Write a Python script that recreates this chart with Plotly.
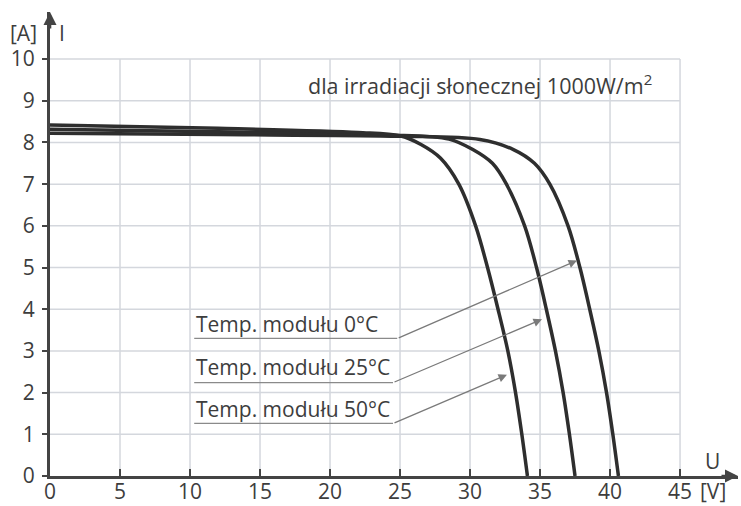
import plotly.graph_objects as go

# Charakterystyki I-U modułu PV dla trzech temperatur (odczyt z wykresu)
u_0c = [0, 12, 25, 30.7, 33.1, 34.6, 35.7, 37.0, 37.85, 38.55, 39.2, 39.75, 40.2, 40.6]
i_0c = [8.22, 8.19, 8.15, 8.07, 7.83, 7.5, 7.0, 6.0, 5.0, 4.0, 3.0, 2.0, 1.0, 0]

u_25c = [0, 12, 24, 28.5, 30.2, 31.6, 32.6, 33.9, 34.75, 35.45, 36.1, 36.65, 37.1, 37.5]
i_25c = [8.32, 8.26, 8.18, 8.08, 7.83, 7.5, 7.0, 6.0, 5.0, 4.0, 3.0, 2.0, 1.0, 0]

u_50c = [0, 12, 22, 25, 26.5, 27.9, 29.2, 30.4, 31.25, 32.0, 32.7, 33.25, 33.7, 34.1]
i_50c = [8.42, 8.34, 8.24, 8.16, 7.95, 7.62, 7.0, 6.0, 5.0, 4.0, 3.0, 2.0, 1.0, 0]

x_ticks = [0, 5, 10, 15, 20, 25, 30, 35, 40, 45]
y_ticks = [0, 1, 2, 3, 4, 5, 6, 7, 8, 9, 10]

labels = ["Temp. modułu 0°C", "Temp. modułu 25°C", "Temp. modułu 50°C"]

FONT = "Open Sans"
TXT = "#3d3d3d"
CURVE = "#2e2e2e"
GRID = "#d4d7dd"
X_END = 49.14
Y_END = 11.13

fig = go.Figure()

for u, i in [(u_0c, i_0c), (u_25c, i_25c), (u_50c, i_50c)]:
    fig.add_trace(go.Scatter(
        x=u, y=i, mode="lines",
        line=dict(color=CURVE, width=3.5, shape="spline", smoothing=0.9),
        showlegend=False, hoverinfo="skip",
    ))

# siatka tylko w obszarze 0-45 V, 0-10 A
for v in x_ticks[1:]:
    fig.add_shape(type="line", x0=v, x1=v, y0=0, y1=y_ticks[-1],
                  line=dict(color=GRID, width=1.5), layer="below")
for a in y_ticks[1:]:
    fig.add_shape(type="line", x0=0, x1=x_ticks[-1], y0=a, y1=a,
                  line=dict(color=GRID, width=1.5), layer="below")

# opisy temperatur z podkreśleniem i strzałką
label_y = [3.64, 2.62, 1.61]
line_y = [3.3, 2.24, 1.26]
line_end = [24.8, 24.5, 24.5]
tips = [(37.64, 5.17), (35.14, 3.76), (32.64, 2.43)]
for txt, ty, ly, le, (tx, tyy) in zip(labels, label_y, line_y, line_end, tips):
    fig.add_annotation(x=10.3, y=ty, text=txt, showarrow=False, xanchor="left",
                       font=dict(family=FONT, size=21, color=TXT))
    fig.add_shape(type="line", x0=10.3, x1=le, y0=ly, y1=ly,
                  line=dict(color="#8a8a8a", width=1.3))
    fig.add_annotation(x=tx, y=tyy, ax=le, ay=ly, axref="x", ayref="y",
                       xref="x", yref="y", text="", showarrow=True,
                       arrowhead=2, arrowsize=1.3, arrowwidth=1.3,
                       arrowcolor="#7a7a7a")

fig.add_annotation(x=18.3, y=9.38, text="dla irradiacji słonecznej 1000W/m<sup>2</sup>",
                   showarrow=False, xanchor="left",
                   font=dict(family=FONT, size=21.5, color=TXT))

# opisy osi
fig.add_annotation(x=-0.038, y=0.955, xref="paper", yref="paper", text="[A]",
                   xanchor="center", yanchor="middle",
                   showarrow=False, font=dict(family=FONT, size=21, color=TXT))
fig.add_annotation(x=0.86, y=10.62, text="I", showarrow=False,
                   font=dict(family=FONT, size=21, color=TXT))
fig.add_annotation(x=47.3, y=0.36, text="U", showarrow=False,
                   font=dict(family=FONT, size=21, color=TXT))
fig.add_annotation(x=0.964, y=-0.033, xref="paper", yref="paper", text="[V]",
                   xanchor="center", yanchor="middle",
                   showarrow=False, font=dict(family=FONT, size=21, color=TXT))

# groty osi
fig.add_annotation(x=X_END, y=0, ax=-18, ay=0, text="", showarrow=True,
                   arrowhead=2, arrowsize=1, arrowwidth=2.6, arrowcolor="#444")
fig.add_annotation(x=0, y=Y_END, ax=0, ay=18, text="", showarrow=True,
                   arrowhead=2, arrowsize=1, arrowwidth=2.6, arrowcolor="#444")

fig.update_xaxes(
    range=[0, X_END], tickvals=x_ticks, showgrid=False, zeroline=False,
    showline=True, linecolor="#444", linewidth=3,
    ticks="inside", ticklen=7, tickwidth=2, tickcolor="#444",
    ticklabelstandoff=-5,
    tickfont=dict(family=FONT, size=21, color=TXT), automargin=False,
)
fig.update_yaxes(
    range=[0, Y_END], tickvals=y_ticks, showgrid=False, zeroline=False,
    showline=True, linecolor="#444", linewidth=3,
    ticks="outside", ticklen=5, tickwidth=2, tickcolor="#444",
    ticklabelstandoff=3,
    tickfont=dict(family=FONT, size=21, color=TXT), automargin=False,
)
fig.update_layout(
    width=741, height=506,
    margin=dict(l=50, r=3, t=12, b=30),
    plot_bgcolor="white", paper_bgcolor="white",
    showlegend=False,
)

fig.write_html("out.html", config={"displayModeBar": False},
               post_script="document.body.style.margin='0';")
